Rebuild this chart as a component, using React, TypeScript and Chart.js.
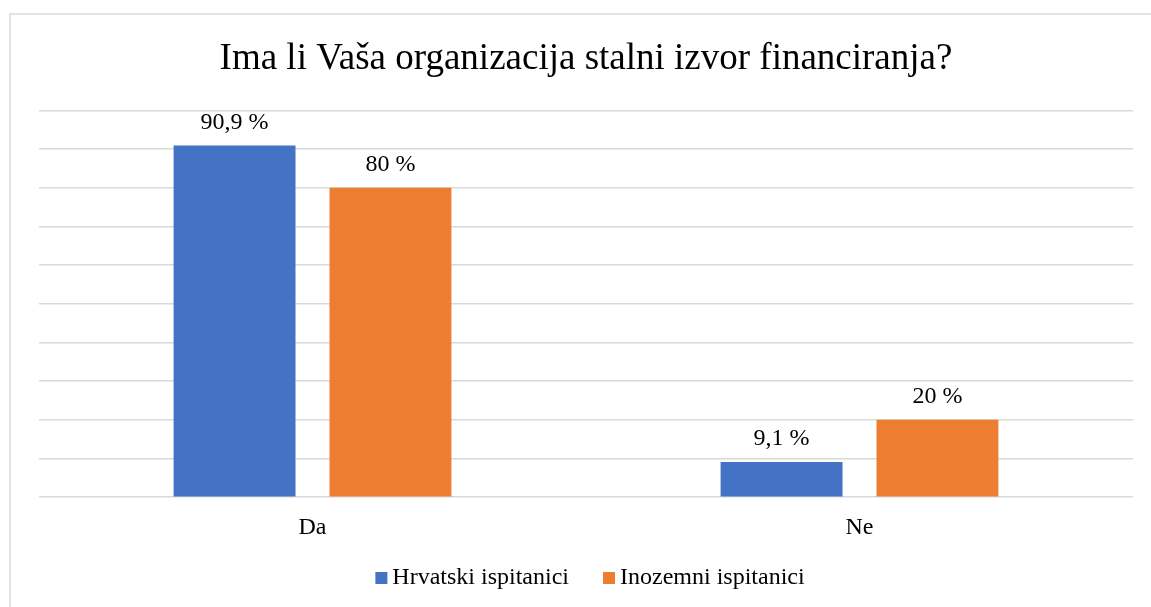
import React, { useEffect, useRef } from "react";
import { Chart, registerables } from "chart.js";

Chart.register(...registerables);

const categories = ["Da", "Ne"];
const hrvatski = [90.9, 9.1];
const inozemni = [80, 20];
const seriesNames = ["Hrvatski ispitanici", "Inozemni ispitanici"];
const seriesColors = ["#4472C4", "#ED7D31"];
const titleText = "Ima li Vaša organizacija stalni izvor financiranja?";

const FONT = "'Liberation Serif', 'Times New Roman', serif";

const fmt = (v: number) => String(v).replace(".", ",") + " %";

const frame = {
  id: "frame",
  beforeDraw(chart: any) {
    const { ctx } = chart;
    ctx.save();
    ctx.fillStyle = "#ffffff";
    ctx.fillRect(0, 0, chart.width, chart.height);
    ctx.strokeStyle = "#d9d9d9";
    ctx.lineWidth = 1.5;
    ctx.strokeRect(10, 14, 2000, 2000);
    ctx.restore();
  },
};

const valueLabels = {
  id: "valueLabels",
  afterDatasetsDraw(chart: any) {
    const { ctx } = chart;
    ctx.save();
    ctx.font = `24px ${FONT}`;
    ctx.fillStyle = "#000000";
    ctx.textAlign = "center";
    ctx.textBaseline = "alphabetic";
    chart.data.datasets.forEach((ds: any, i: number) => {
      const meta = chart.getDatasetMeta(i);
      meta.data.forEach((bar: any, j: number) => {
        ctx.fillText(fmt(ds.data[j]), bar.x, bar.y - 17);
      });
    });
    ctx.restore();
  },
};

const bottomLegend = {
  id: "bottomLegend",
  afterDraw(chart: any) {
    const { ctx } = chart;
    ctx.save();
    ctx.font = `24px ${FONT}`;
    ctx.textBaseline = "alphabetic";
    ctx.textAlign = "left";
    const box = 12;
    const gap = 5;
    const spacing = 34;
    const items = chart.data.datasets.map((ds: any) => ({
      text: ds.label,
      color: ds.backgroundColor,
      w: ctx.measureText(ds.label).width,
    }));
    const total =
      items.reduce((s: number, it: any) => s + box + gap + it.w, 0) + spacing * (items.length - 1);
    let x = 590 - total / 2;
    const baseline = 584;
    items.forEach((it: any) => {
      ctx.fillStyle = it.color;
      ctx.fillRect(x, 572, box, box);
      ctx.fillStyle = "#000000";
      ctx.fillText(it.text, x + box + gap, baseline);
      x += box + gap + it.w + spacing;
    });
    ctx.restore();
  },
};

export default function App() {
  const ref = useRef<HTMLCanvasElement>(null);
  useEffect(() => {
    if (!ref.current) return;
    const chart = new Chart(ref.current, {
      type: "bar",
      data: {
        labels: categories,
        datasets: [
          {
            label: seriesNames[0],
            data: hrvatski,
            backgroundColor: seriesColors[0],
            categoryPercentage: 0.57,
            barPercentage: 0.782,
          },
          {
            label: seriesNames[1],
            data: inozemni,
            backgroundColor: seriesColors[1],
            categoryPercentage: 0.57,
            barPercentage: 0.782,
          },
        ],
      },
      options: {
        animation: false,
        responsive: false,
        maintainAspectRatio: false,
        layout: { padding: { left: 39, right: 18, top: 0, bottom: 49 } },
        scales: {
          x: {
            grid: { display: false, drawTicks: false },
            border: { display: false },
            ticks: {
              color: "#000000",
              font: { family: FONT, size: 24 },
              padding: 16,
            },
          },
          y: {
            min: 0,
            max: 100,
            grid: { color: "#d9d9d9", lineWidth: 1.5, drawTicks: false },
            border: { display: false },
            ticks: { display: false, stepSize: 10 },
          },
        },
        plugins: {
          title: {
            display: true,
            text: titleText,
            color: "#000000",
            font: { family: FONT, size: 37, weight: "normal" },
            padding: { top: 37, bottom: 29 },
          },
          legend: { display: false },
          tooltip: { enabled: false },
        },
      },
      plugins: [frame, valueLabels, bottomLegend],
    });
    return () => chart.destroy();
  }, []);
  return (
    <div style={{ position: "fixed", left: 0, top: 0, width: 1151, height: 607, background: "#fff" }}>
      <canvas ref={ref} width={1151} height={607} style={{ display: "block", width: 1151, height: 607 }} />
    </div>
  );
}
